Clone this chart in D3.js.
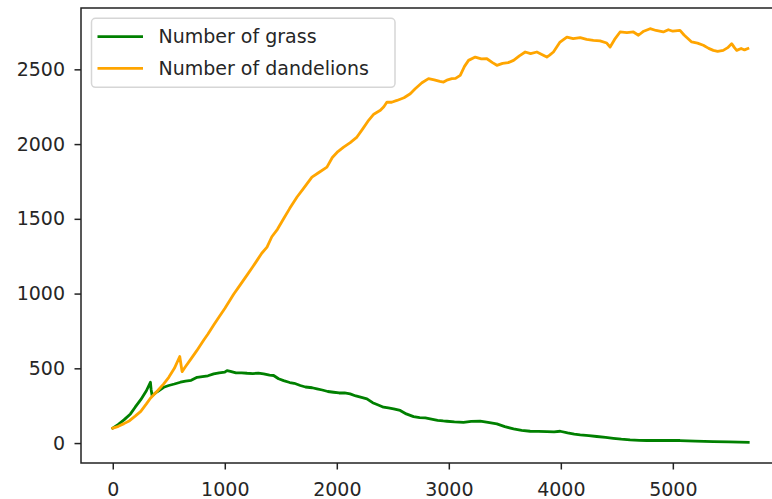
<html>
<head>
<script src="https://d3js.org/d3.v7.min.js"></script>
<style>
  body { margin: 0; background: #fff; }
  text { font-family: "DejaVu Sans", sans-serif; }
</style>
</head>
<body>
<script>
// steps (x) and counts (y)
var grassSteps = [0, 50, 100, 158, 200, 250, 300, 336, 342, 351, 400, 455, 500, 550, 604, 650, 700, 753, 800, 850,
  901, 950, 1000, 1020, 1050, 1100, 1150, 1199, 1250, 1300, 1347, 1400, 1436, 1480, 1525, 1580, 1620, 1674, 1720, 1780,
  1823, 1870, 1920, 1971, 2020, 2070, 2119, 2170, 2220, 2269, 2320, 2370, 2417, 2460, 2507, 2566, 2620, 2685, 2740, 2790,
  2834, 2900, 2950, 2983, 3050, 3131, 3200, 3280, 3350, 3429, 3500, 3578, 3650, 3726, 3800, 3875, 3940, 3994, 4060, 4120,
  4173, 4250, 4321, 4400, 4469, 4540, 4618, 4700, 4767, 4900, 5064, 5200, 5361, 5500, 5673];
var grassCounts = [100, 125, 155, 195, 240, 290, 350, 407, 360, 318, 345, 373, 385, 395, 407, 415, 420, 440, 445, 450,
  463, 470, 475, 485, 480, 470, 470, 467, 465, 468, 463, 455, 452, 430, 418, 405, 400, 385, 375, 370,
  363, 355, 345, 340, 335, 335, 329, 315, 305, 296, 270, 255, 240, 235, 229, 218, 195, 177, 170, 168,
  162, 152, 148, 146, 142, 139, 145, 146, 138, 128, 110, 95, 85, 79, 78, 77, 75, 79, 68, 60,
  55, 50, 44, 38, 32, 26, 21, 18, 17, 17, 17, 13, 10, 8, 5];

var dandelionSteps = [0, 50, 100, 150, 200, 250, 300, 336, 400, 455, 500, 550, 598, 610, 619, 650, 700, 750, 811, 850,
  901, 950, 1000, 1050, 1079, 1130, 1200, 1250, 1288, 1330, 1377, 1420, 1470, 1525, 1580, 1645, 1700, 1778, 1840, 1912,
  1960, 2010, 2061, 2120, 2180, 2230, 2284, 2330, 2389, 2420, 2448, 2490, 2537, 2600, 2656, 2700, 2760, 2819, 2870, 2920,
  2953, 2990, 3027, 3060, 3102, 3140, 3176, 3236, 3290, 3340, 3390, 3429, 3480, 3530, 3578, 3630, 3682, 3730, 3786, 3830,
  3875, 3900, 3934, 3990, 4054, 4110, 4173, 4230, 4291, 4350, 4410, 4440, 4480, 4529, 4590, 4648, 4693, 4740, 4797, 4850,
  4915, 4960, 5000, 5064, 5100, 5168, 5220, 5272, 5320, 5361, 5400, 5450, 5490, 5525, 5550, 5570, 5610, 5640, 5670];
var dandelionCounts = [100, 112, 130, 150, 180, 212, 262, 300, 350, 396, 440, 500, 579, 520, 478, 512, 565, 618, 688, 730,
  790, 845, 900, 960, 995, 1050, 1125, 1180, 1222, 1270, 1311, 1380, 1430, 1501, 1570, 1646, 1700, 1779, 1810, 1846,
  1910, 1950, 1980, 2010, 2047, 2100, 2159, 2200, 2226, 2250, 2281, 2280, 2292, 2310, 2337, 2370, 2410, 2438, 2430, 2420,
  2415, 2430, 2438, 2440, 2460, 2520, 2560, 2582, 2570, 2571, 2545, 2527, 2540, 2545, 2560, 2590, 2616, 2605, 2616, 2600,
  2582, 2595, 2616, 2680, 2716, 2705, 2712, 2700, 2694, 2690, 2676, 2649, 2700, 2750, 2745, 2750, 2728, 2755, 2772, 2760,
  2750, 2765, 2755, 2761, 2730, 2683, 2675, 2661, 2640, 2627, 2620, 2627, 2645, 2672, 2645, 2627, 2640, 2630, 2639];

var xTicks = [0, 1000, 2000, 3000, 4000, 5000];
var yTicks = [0, 500, 1000, 1500, 2000, 2500];
var seriesNames = ['Number of grass', 'Number of dandelions'];
var seriesColors = ['green', 'orange'];

var grass = grassSteps.map((s, i) => ({step: s, n: grassCounts[i]}));
var dandelions = dandelionSteps.map((s, i) => ({step: s, n: dandelionCounts[i]}));
var series = [grass, dandelions];

var W = 772, H = 499;
var plot = {left: 81, right: 780, top: 8, bottom: 463};
var fs = 19;

// matplotlib style 5% margins
var allPts = grass.concat(dandelions);
var xe = d3.extent(allPts, d => d.step), ye = d3.extent(allPts, d => d.n);
var xm = (xe[1] - xe[0]) * 0.05, ym = (ye[1] - ye[0]) * 0.05;

var x = d3.scaleLinear().domain([xe[0] - xm, xe[1] + xm]).range([plot.left, plot.right]);
var y = d3.scaleLinear().domain([ye[0] - ym, ye[1] + ym]).range([plot.bottom, plot.top]);

var svg = d3.select('body').append('svg').attr('width', W).attr('height', H);

svg.append('clipPath').attr('id', 'clip').append('rect')
  .attr('x', plot.left).attr('y', plot.top)
  .attr('width', plot.right - plot.left).attr('height', plot.bottom - plot.top);

var line = d3.line().x(d => x(d.step)).y(d => y(d.n));

svg.append('g').attr('clip-path', 'url(#clip)')
  .selectAll('path').data(series).enter().append('path')
  .attr('d', line)
  .attr('fill', 'none')
  .attr('stroke', (d, i) => seriesColors[i])
  .attr('stroke-width', 2.8)
  .attr('stroke-linejoin', 'round')
  .attr('stroke-linecap', 'square');

// axes
var xAxis = svg.append('g').attr('transform', 'translate(0,' + plot.bottom + ')')
  .call(d3.axisBottom(x).tickValues(xTicks).tickFormat(d3.format('d')).tickSize(6.5).tickPadding(13).tickSizeOuter(0));
var yAxis = svg.append('g').attr('transform', 'translate(' + plot.left + ',0)')
  .call(d3.axisLeft(y).tickValues(yTicks).tickFormat(d3.format('d')).tickSize(6.5).tickPadding(9.5).tickSizeOuter(0));

[xAxis, yAxis].forEach(function(a) {
  a.select('.domain').remove();
  a.selectAll('line').attr('stroke', '#222').attr('stroke-width', 1.5);
  a.selectAll('text').attr('font-size', fs).attr('fill', '#262626')
    .style('font-family', '"DejaVu Sans", sans-serif');
});

// frame
svg.append('rect')
  .attr('x', plot.left).attr('y', plot.top)
  .attr('width', plot.right - plot.left).attr('height', plot.bottom - plot.top)
  .attr('fill', 'none').attr('stroke', '#222').attr('stroke-width', 1.5);

// legend
var lg = svg.append('g').attr('transform', 'translate(' + (plot.left + 10.5) + ',' + (plot.top + 10.3) + ')');
lg.append('rect')
  .attr('width', 303.5).attr('height', 69)
  .attr('rx', 4).attr('ry', 4)
  .attr('fill', 'white').attr('fill-opacity', 0.8)
  .attr('stroke', '#d6d6d6').attr('stroke-width', 1.5);

var rows = lg.selectAll('g.row').data(seriesNames).enter().append('g')
  .attr('transform', (d, i) => 'translate(0,' + (18.4 + i * 31.6) + ')');
rows.append('line')
  .attr('x1', 6).attr('x2', 51.5)
  .attr('stroke', (d, i) => seriesColors[i]).attr('stroke-width', 2.8);
rows.append('text')
  .attr('x', 67).attr('dy', '0.35em')
  .attr('font-size', fs).attr('fill', '#262626')
  .text(d => d);
</script>
</body>
</html>
